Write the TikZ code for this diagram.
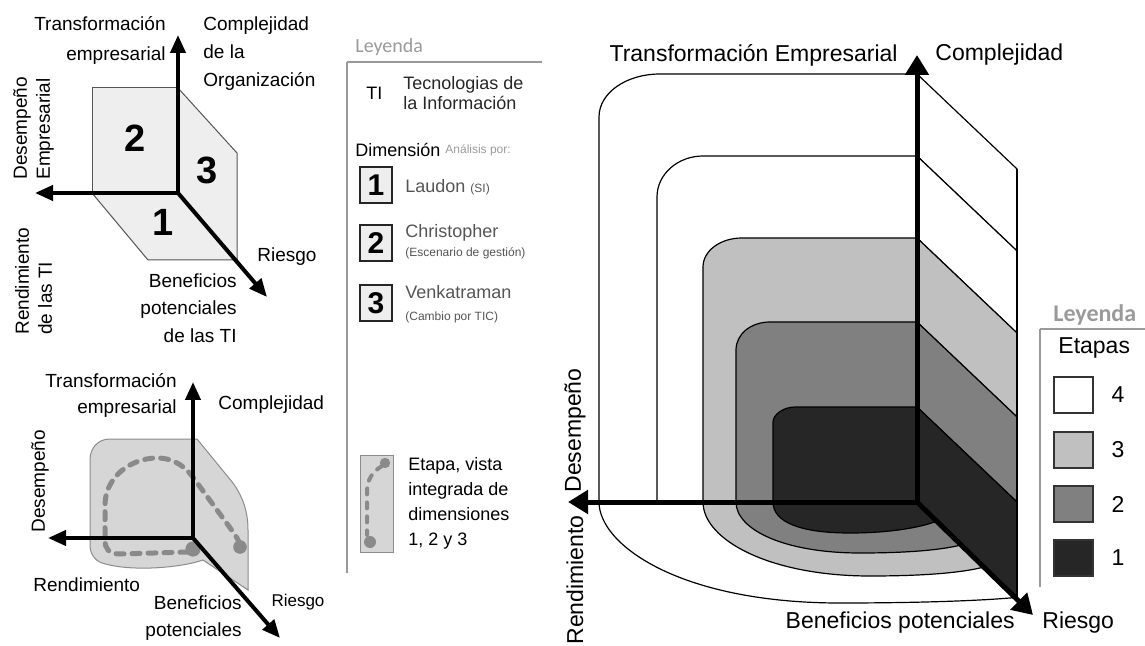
\documentclass[tikz,border=0pt]{standalone}
\usepackage{fontspec}
\setmainfont{Liberation Sans}
\newfontfamily\legfont{Carlito}
\usetikzlibrary{arrows.meta}

\definecolor{paneFill}{HTML}{EEEEEE}
\definecolor{blobFill}{HTML}{D6D6D6}
\definecolor{stageThree}{HTML}{C0C0C0}
\definecolor{stageTwo}{HTML}{808080}
\definecolor{stageOne}{HTML}{262626}
\definecolor{legGray}{HTML}{9A9A9A}
\definecolor{txtGray}{HTML}{555555}
\definecolor{dashGray}{HTML}{8A8A8A}

\begin{document}
\begin{tikzpicture}[%
        x=0.5pt, y=-0.5pt,
        axis/.style={line width=2pt, -{Triangle[width=7.5pt,length=9pt]}},
        bigaxis/.style={line width=2.5pt, -{Triangle[width=11.5pt,length=10pt]}},
        lbl/.style={font=\fontsize{9.5}{14}\selectfont, inner sep=0pt, align=left},
        biglbl/.style={font=\fontsize{11.5}{14}\selectfont, inner sep=0pt},
        digit/.style={font=\bfseries\fontsize{19}{19}\selectfont, inner sep=0pt},
        pane/.style={fill=paneFill, draw=txtGray, line width=0.5pt},
        ring/.style={draw=black, line width=0.6pt},
        legline/.style={draw=legGray, line width=0.6pt},
        legtxt/.style={font=\fontsize{9}{10}\selectfont, inner sep=0pt, anchor=west, align=left},
        smalltxt/.style={font=\fontsize{6}{7}\selectfont, inner sep=0pt, anchor=west, text=txtGray},
        numbox/.style={draw=black!85, line width=1pt, fill=paneFill, minimum width=16pt,
            minimum height=18pt, inner sep=0pt, font=\bfseries\fontsize{15}{15}\selectfont},
        stagebox/.style={draw=black!80, line width=0.8pt, minimum width=19.5pt,
            minimum height=18pt, inner sep=0pt},
        loop/.style={draw=dashGray, line width=2.5pt, dash pattern=on 4pt off 4pt, line cap=round},
    ]
    \useasboundingbox (0,0) rectangle (1145,646);

    % ---- top left: the three dimensions
    \filldraw[pane] (92,88) rectangle (178,193);
    \filldraw[pane] (178,88) -- (237,153) -- (237,260) -- (178,193) -- cycle;
    \filldraw[pane] (92,193) -- (178,193) -- (237,260) -- (148,260) -- cycle;
    \node[digit] (dimTwo) at (135,138) {2};
    \node[digit] (dimThree) at (207,170) {3};
    \node[digit] (dimOne) at (163,222) {1};

    \coordinate (oA) at (178,193);
    \coordinate (oAup) at (178,35);
    \coordinate (oAleft) at (35,193);
    \coordinate (oAdiag) at (267,297);
    \draw[axis] (oA) -- (oAup);
    \draw[axis] (oA) -- (oAleft);
    \draw[axis] (oA) -- (oAdiag);

    \node[lbl, anchor=east, align=right, font=\fontsize{9.5}{15}\selectfont] (transA) at (166,40) {Transformación\\empresarial};
    \node[lbl, anchor=west] (complA) at (203,54) {Complejidad\\de la\\Organización};
    \node[lbl, rotate=90, anchor=west, font=\fontsize{9.5}{11.5}\selectfont] (desempA) at (33.5,180) {Desempeño\\Empresarial};
    \node[lbl, rotate=90, anchor=west, font=\fontsize{9.5}{11.5}\selectfont] (rendA) at (33.5,335) {Rendimiento\\de las TI};
    \node[lbl] (riesgoA) at (287,257) {Riesgo};
    \node[lbl, anchor=east, align=right, font=\fontsize{9.5}{13.75}\selectfont] (benefA) at (237,308) {Beneficios\\potenciales\\de las TI};

    % ---- bottom left: integrated view
    \filldraw[fill=blobFill, draw=black!45, line width=0.5pt]
        (110,439) -- (197,439) -- (233,483) .. controls (243,497) and (248,512) .. (248,530)
        -- (248,590) -- (203,560) .. controls (180,568) and (130,572) .. (102,563)
        .. controls (94,560) and (90,553) .. (90,545) -- (90,460)
        .. controls (90,448) and (98,439) .. (110,439) -- cycle;
    \draw[loop] (188,552) -- (120,554) .. controls (108,554) and (105,548) .. (105,540)
        -- (105,505) .. controls (105,478) and (130,458) .. (157,458)
        .. controls (175,458) and (187,468) .. (195,480) -- (228,525)
        .. controls (236,536) and (240,542) .. (240,546);
    \fill[dashGray] (193,549) circle[radius=3.8pt];
    \fill[dashGray] (240,547) circle[radius=3.4pt];

    \coordinate (oB) at (193,538);
    \coordinate (oBup) at (193,382);
    \coordinate (oBleft) at (48,538);
    \coordinate (oBdiag) at (280,638);
    \draw[axis] (oB) -- (oBup);
    \draw[axis] (oB) -- (oBleft);
    \draw[axis] (oB) -- (oBdiag);

    \node[lbl, anchor=east, align=right, font=\fontsize{9.5}{13}\selectfont] (transB) at (177,395) {Transformación\\empresarial};
    \node[lbl, anchor=west] (complB) at (218,405) {Complejidad};
    \node[lbl, rotate=90, anchor=west] (desempB) at (40,533) {Desempeño};
    \node[lbl, anchor=west] (rendB) at (33,585) {Rendimiento};
    \node[lbl, anchor=east, align=right, font=\fontsize{9.5}{13.5}\selectfont] (benefB) at (242,618) {Beneficios\\potenciales};
    \node[lbl, font=\fontsize{8.5}{10}\selectfont] (riesgoB) at (298,602) {Riesgo};

    % ---- middle legend
    \node[inner sep=0pt, anchor=west, text=legGray, font=\legfont\fontsize{10}{11}\selectfont] (leyA) at (355,47) {Leyenda};
    \draw[legline] (347,62) -- (542,62);
    \draw[legline] (347,62) -- (347,573);
    \node[legtxt] (tiAbbr) at (366,93) {TI};
    \node[legtxt, font=\fontsize{9}{10}\selectfont, text=black!85] (tiText) at (403,93) {Tecnologias de\\la Información};
    \node[legtxt] (dimHead) at (355,150) {Dimensión};
    \node[smalltxt, text=legGray] (anaHead) at (445,150) {Análisis por:};

    \node[numbox] (boxOne) at (376,185) {1};
    \node[numbox] (boxTwo) at (376,243) {2};
    \node[numbox] (boxThree) at (376,303) {3};
    \node[legtxt, text=txtGray] (laudon) at (405,187) {Laudon {\fontsize{6}{7}\selectfont(SI)}};
    \node[legtxt, text=txtGray] (christ) at (405,233) {Christopher};
    \node[smalltxt] (christSub) at (405,253) {(Escenario de gestión)};
    \node[legtxt, text=txtGray] (venkat) at (405,292) {Venkatraman};
    \node[smalltxt] (venkatSub) at (405,317) {(Cambio por TIC)};

    \filldraw[fill=blobFill, draw=black!45, line width=0.5pt] (360,455) rectangle (393,552);
    \draw[loop, line width=2pt, dash pattern=on 3pt off 4pt] (382,466) .. controls (372,472) and (367,480) .. (367,492) -- (367,535);
    \fill[dashGray] (385,463) circle[radius=2.6pt];
    \fill[dashGray] (370,542) circle[radius=3pt];
    \node[legtxt, font=\fontsize{9}{12.5}\selectfont] (etapaText) at (408,503) {Etapa, vista\\integrada de\\dimensiones\\1, 2 y 3};

    % ---- right: stages
    \filldraw[ring, fill=white] (917,74) -- (660,74) .. controls (626,74) and (599,93) .. (599,117)
        -- (599,502) .. controls (599,545) and (680,603) .. (840,603)
        .. controls (930,603) and (990,600) .. (1015,597.5) -- (917,502) -- cycle;
    \filldraw[ring, fill=white] (917,156) -- (703,156) .. controls (678,156) and (657,174) .. (657,197)
        -- (657,502) -- (917,502) -- cycle;
    \filldraw[ring, fill=stageThree] (917,238) -- (742,238) .. controls (720,238) and (703,251) .. (703,267)
        -- (703,502) .. controls (703,540) and (770,576) .. (870,576)
        .. controls (930,576) and (965,572) .. (984,567) -- (917,502) -- cycle;
    \filldraw[ring, fill=stageTwo] (917,322) -- (770,322) .. controls (751,322) and (736,334) .. (736,350)
        -- (736,502) .. controls (736,530) and (785,553) .. (860,553)
        .. controls (915,553) and (945,549) .. (961,545) -- (917,502) -- cycle;
    \filldraw[ring, fill=stageOne] (917,407) -- (795,407) .. controls (783,407) and (773,415) .. (773,422)
        -- (773,502) .. controls (773,522) and (800,533) .. (850,533)
        .. controls (895,533) and (925,526) .. (937,521) -- (917,502) -- cycle;

    \foreach \top/\bot/\col in {74/156/white, 156/238/white, 238/322/stageThree, 322/407/stageTwo, 407/502/stageOne}
        \filldraw[ring, fill=\col] (917,\top) -- (1017,\top+95) -- (1017,\bot+95) -- (917,\bot) -- cycle;
    \draw[line width=1.2pt] (1017,169) -- (1017,597);

    \coordinate (oC) at (917,502);
    \coordinate (oCup) at (917,55);
    \coordinate (oCleft) at (568,502);
    \coordinate (oCdiag) at (1033,615);
    \draw[bigaxis] (oC) -- (oCup);
    \draw[bigaxis] (oC) -- (oCleft);
    \draw[bigaxis] (oC) -- (oCdiag);

    \node[biglbl, anchor=east] (transC) at (898,55) {Transformación Empresarial};
    \node[biglbl, anchor=west] (complC) at (935,55) {Complejidad};
    \node[biglbl, rotate=90, anchor=west] (desempC) at (575,493) {Desempeño};
    \node[biglbl, rotate=90, anchor=west] (rendC) at (575,645) {Rendimiento};
    \node[biglbl, anchor=east] (benefC) at (1015,623) {Beneficios potenciales};
    \node[biglbl, anchor=west] (riesgoC) at (1042,623) {Riesgo};

    % ---- right legend
    \node[inner sep=0pt, anchor=west, text=legGray, font=\legfont\bfseries\fontsize{12}{13}\selectfont] (leyB) at (1053,315) {Leyenda};
    \draw[legline] (1040,329) -- (1145,329);
    \draw[legline] (1040,329) -- (1040,587);
    \node[biglbl, anchor=west] (etapas) at (1058,348) {Etapas};
    \foreach \y/\col/\n in {395/white/4, 450/stageThree/3, 504/stageTwo/2, 558/stageOne/1} {
        \node[stagebox, fill=\col] (stage\n) at (1073.5,\y) {};
        \node[biglbl] (stageNum\n) at (1118,\y) {\n};
    }
\end{tikzpicture}
\end{document}
